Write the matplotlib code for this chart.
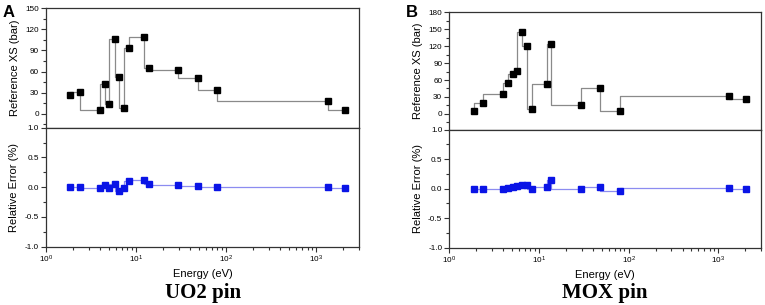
"""
Reference cross section (step plot) and relative error vs energy
for a UO2 pin (A) and a MOX pin (B).
"""
import matplotlib
matplotlib.use("Agg")
import matplotlib.pyplot as plt
from matplotlib.ticker import AutoMinorLocator, LogLocator, MultipleLocator

plt.rcParams["font.family"] = ["Liberation Sans", "DejaVu Sans"]
plt.rcParams["axes.unicode_minus"] = False

# ── Data ───────────────────────────────────────────────────────────────────
# group energies (eV), same for both pins
energy_uo2 = [1.85, 2.39, 3.98, 4.49, 5.06, 5.8, 6.53, 7.36, 8.43,
              12.3, 13.9, 29.5, 48.8, 80.0, 1336.0, 2083.0]
xs_uo2 = [27.0, 30.9, 4.8, 42.2, 14.2, 106.2, 52.6, 8.5, 93.8,
          108.6, 64.5, 61.7, 51.2, 34.1, 18.5, 4.8]
err_uo2 = [0.0, 0.01, -0.01, 0.03, -0.01, 0.06, -0.07, -0.02, 0.10,
           0.12, 0.05, 0.045, 0.02, 0.0, 0.0, -0.02]

energy_mox = [1.87, 2.39, 3.93, 4.47, 5.08, 5.73, 6.52, 7.41, 8.35,
              12.2, 13.7, 29.2, 47.9, 79.4, 1303.0, 2018.0]
xs_mox = [5.3, 18.9, 35.5, 55.6, 71.0, 75.7, 145.0, 119.5, 8.9,
          53.8, 123.7, 15.4, 46.2, 5.3, 32.0, 27.2]
err_mox = [-0.01, -0.005, -0.01, 0.015, 0.035, 0.04, 0.06, 0.055, -0.01,
           0.03, 0.14, 0.0, 0.035, -0.035, 0.005, -0.01]

panels = [
    # letter, title, energy, xs, err, xs ylim, xs tick step, boxes (left, right, top, mid, bottom)
    ("A", "UO2 pin", energy_uo2, xs_uo2, err_uo2, (-20, 150), 30,
     (0.0601, 0.4697, 0.9728, 0.5813, 0.1911)),
    ("B", "MOX pin", energy_mox, xs_mox, err_mox, (-28, 180), 30,
     (0.5873, 0.9948, 0.9597, 0.5748, 0.1879)),
]

TICK_FS = 5.9
LABEL_FS = 8


def style_axis(ax):
    ax.tick_params(which="both", direction="out", top=False, right=False,
                   labelsize=TICK_FS, width=0.8, color="#333333", pad=1.5)
    ax.tick_params(which="major", length=3.5)
    ax.tick_params(which="minor", length=2)
    for sp in ax.spines.values():
        sp.set_linewidth(0.9)
        sp.set_color("#333333")


def main() -> None:
    fig = plt.figure(figsize=(7.65, 3.05), dpi=100)

    for letter, title, energy, xs, err, ylim, ystep, box in panels:
        left, right, top, mid, bottom = box
        ax_top = fig.add_axes([left, mid, right - left, top - mid])
        ax_bot = fig.add_axes([left, bottom, right - left, mid - bottom],
                              sharex=ax_top)

        # upper: reference cross section
        ax_top.plot(energy, xs, drawstyle="steps-pre", color="#8a8a8a", lw=0.9)
        ax_top.plot(energy, xs, ls="none", marker="s", ms=4.2, color="black")
        ax_top.set_ylim(*ylim)
        ax_top.yaxis.set_major_locator(MultipleLocator(ystep))
        ax_top.yaxis.set_minor_locator(AutoMinorLocator(2))
        ax_top.set_ylabel("Reference XS (bar)", fontsize=LABEL_FS, labelpad=4)
        style_axis(ax_top)
        ax_top.tick_params(axis="x", which="both", bottom=False, labelbottom=False)

        # lower: relative error
        ax_bot.plot(energy, err, drawstyle="steps-pre", color="#8c8cf0", lw=0.9)
        ax_bot.plot(energy, err, ls="none", marker="s", ms=4.2, color="#0a14e6")
        ax_bot.set_ylim(-1.0, 1.0)
        ax_bot.yaxis.set_major_locator(MultipleLocator(0.5))
        ax_bot.yaxis.set_minor_locator(AutoMinorLocator(2))
        ax_bot.set_ylabel("Relative Error (%)", fontsize=LABEL_FS, labelpad=4)
        ax_bot.set_xscale("log")
        ax_bot.set_xlim(1, 3000)
        ax_bot.xaxis.set_major_locator(LogLocator(base=10, numticks=10))
        ax_bot.xaxis.set_minor_locator(LogLocator(base=10, subs=range(2, 10), numticks=20))
        ax_bot.set_xlabel("Energy (eV)", fontsize=LABEL_FS, labelpad=3)
        style_axis(ax_bot)
        ax_bot.yaxis.set_major_formatter(plt.FuncFormatter(lambda v, p: f"{v:.1f}"))

        # panel letter and bottom caption
        fig.text(left - 0.057, 0.944, letter, fontsize=12, fontweight="bold",
                 ha="left", va="baseline")
        fig.text((left + right) / 2, 0.04, title, fontsize=15, fontweight="bold",
                 family=["Liberation Serif", "DejaVu Serif"], ha="center", va="center")

    fig.savefig("out.png", dpi=100)


if __name__ == "__main__":
    main()
